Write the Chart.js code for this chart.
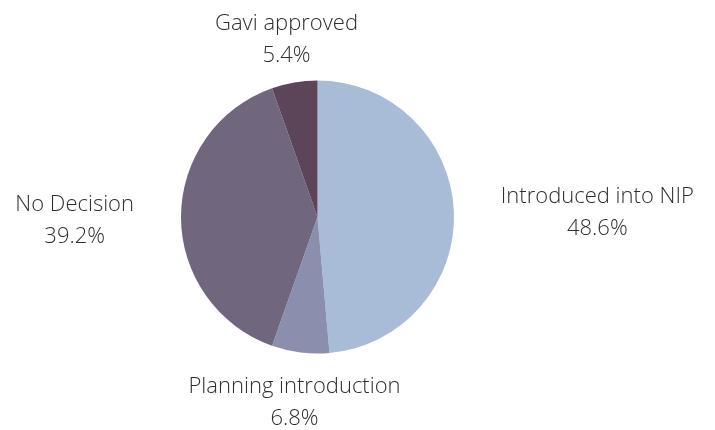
<!DOCTYPE html>
<html>
<head>
<meta charset="utf-8">
<script src="https://cdn.jsdelivr.net/npm/chart.js@4.4.1/dist/chart.umd.min.js"></script>
<style>
  html, body { margin: 0; padding: 0; background: #fff; }
  #wrap { width: 715px; height: 430px; }
</style>
</head>
<body>
<div id="wrap"><canvas id="myChart" width="715" height="430"></canvas></div>
<script>
  'use strict'

  // data
  const categories = ['Introduced into NIP', 'Planning introduction', 'No Decision', 'Gavi approved']
  const shares = [48.6, 6.8, 39.2, 5.4]
  const sliceColors = ['#a8bcd8', '#8b8fad', '#70667e', '#5c4459']

  // outside labels: name on first line, percentage below
  const outsideLabels = {
    id: 'outsideLabels',
    afterDatasetsDraw (chart) {
      const ctx = chart.ctx
      const meta = chart.getDatasetMeta(0)
      ctx.save()
      ctx.font = '300 22px "Open Sans"'
      ctx.fillStyle = '#2e2e2e'
      ctx.textBaseline = 'middle'
      ctx.textAlign = 'center'
      meta.data.forEach((arc, i) => {
        const mid = (arc.startAngle + arc.endAngle) / 2
        const dx = Math.cos(mid)
        const dy = Math.sin(mid)
        const r = arc.outerRadius + 47
        const lines = [categories[i], shares[i].toFixed(1) + '%']
        const w = Math.max(...lines.map(t => ctx.measureText(t).width))
        let x = arc.x + dx * r
        const y = arc.y + dy * r + 4
        if (Math.abs(dx) > 0.5) x += Math.sign(dx) * w / 2
        ctx.fillText(lines[0], x, y - 16)
        ctx.fillText(lines[1], x, y + 16)
      })
      ctx.restore()
    }
  }

  new Chart(document.getElementById('myChart'), {
    type: 'pie',
    data: {
      labels: categories,
      datasets: [{
        data: shares,
        backgroundColor: sliceColors,
        borderWidth: 0
      }]
    },
    options: {
      responsive: false,
      animation: false,
      layout: {
        padding: { left: 181, right: 261, top: 80, bottom: 76 }
      },
      plugins: {
        legend: { display: false },
        tooltip: { enabled: false }
      }
    },
    plugins: [outsideLabels]
  })
</script>
</body>
</html>
